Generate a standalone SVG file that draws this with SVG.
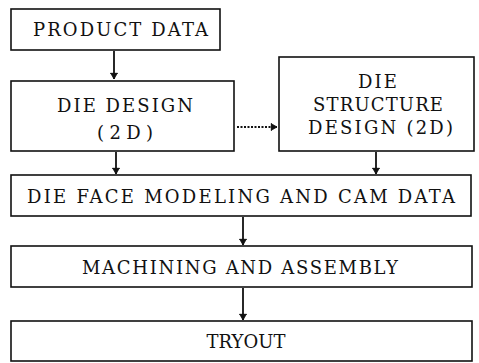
<svg xmlns="http://www.w3.org/2000/svg" width="479" height="363" viewBox="0 0 479 363">
  <style>
    .box { fill: #ffffff; stroke: #111111; stroke-width: 1.6; }
    .lbl { font-family: "DejaVu Serif", "Liberation Serif", serif; font-size: 18px; fill: #111111; }
    .mid { text-anchor: middle; }
    .flow { stroke: #111111; stroke-width: 1.8; fill: none; }
    .dot { stroke: #111111; stroke-width: 2.2; fill: none; stroke-dasharray: 2 1.5; }
  </style>
  <defs>
    <!-- small solid head with a cross tick, plotter style -->
    <marker id="head" viewBox="0 0 10 10" refX="9" refY="5" markerWidth="8" markerHeight="8" markerUnits="userSpaceOnUse" orient="auto">
      <path d="M2,1 L9,5 L2,9 Z M2,0 L2,10" fill="#111111" stroke="#111111" stroke-width="1"/>
    </marker>
  </defs>
  <rect width="479" height="363" fill="#ffffff"/>

  <g id="connectors">
    <line class="flow" x1="114" y1="51" x2="114" y2="79" marker-end="url(#head)"/>
    <line class="dot" x1="237" y1="127" x2="277" y2="127" marker-end="url(#head)"/>
    <line class="flow" x1="116" y1="152" x2="116" y2="174" marker-end="url(#head)"/>
    <line class="flow" x1="376" y1="152" x2="376" y2="174" marker-end="url(#head)"/>
    <line class="flow" x1="243" y1="217" x2="243" y2="245" marker-end="url(#head)"/>
    <line class="flow" x1="243" y1="288" x2="243" y2="320" marker-end="url(#head)"/>
  </g>

  <g id="product-data">
    <rect class="box" x="11" y="9" width="209" height="41"/>
    <text class="lbl" x="33" y="36" textLength="175" lengthAdjust="spacing">PRODUCT DATA</text>
  </g>

  <g id="die-design">
    <rect class="box" x="11" y="81" width="223" height="70"/>
    <text class="lbl" x="57" y="112" textLength="136" lengthAdjust="spacing">DIE DESIGN</text>
    <text class="lbl" x="97" y="139" textLength="56" lengthAdjust="spacing">(2D)</text>
  </g>

  <g id="die-structure-design">
    <rect class="box" x="279" y="57" width="195" height="94"/>
    <text class="lbl" x="358" y="88" textLength="39" lengthAdjust="spacing">DIE</text>
    <text class="lbl" x="313" y="111" textLength="130" lengthAdjust="spacing">STRUCTURE</text>
    <text class="lbl" x="308" y="134" textLength="145" lengthAdjust="spacing">DESIGN (2D)</text>
  </g>

  <g id="die-face-modeling">
    <rect class="box" x="11" y="175" width="460" height="41"/>
    <text class="lbl" x="27" y="203" textLength="428" lengthAdjust="spacing">DIE FACE MODELING AND CAM DATA</text>
  </g>

  <g id="machining-assembly">
    <rect class="box" x="11" y="246" width="461" height="41"/>
    <text class="lbl" x="82" y="274" textLength="316" lengthAdjust="spacing">MACHINING AND ASSEMBLY</text>
  </g>

  <g id="tryout">
    <rect class="box" x="11" y="321" width="461" height="40"/>
    <text class="lbl mid" x="246" y="348">TRYOUT</text>
  </g>
</svg>
